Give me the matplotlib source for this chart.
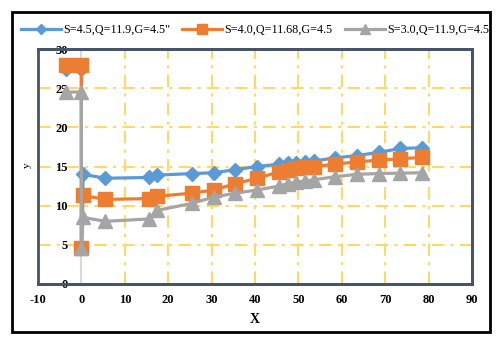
import matplotlib
matplotlib.use("Agg")
import matplotlib.pyplot as plt
from matplotlib.patches import Rectangle

# ---- data ----
x_vals = [-3.5, 0, 0, 0.4, 5.5, 15.5, 17.5, 25.5, 30.5, 35.5, 40.5, 45.5, 47.5,
          49.5, 51.5, 53.5, 58.5, 63.5, 68.5, 73.5, 78.5]
s45 = [27.5, 27.5, 4.6, 14.0, 13.5, 13.6, 13.9, 14.1, 14.2, 14.6, 15.0, 15.3, 15.4,
       15.5, 15.6, 15.7, 16.1, 16.4, 16.8, 17.3, 17.4]
s40 = [28.0, 28.0, 4.6, 11.3, 10.8, 10.9, 11.2, 11.6, 12.0, 12.8, 13.5, 14.3, 14.6,
       14.8, 14.9, 15.0, 15.3, 15.6, 15.8, 16.0, 16.15]
s30 = [24.5, 24.5, 4.6, 8.5, 8.0, 8.3, 9.4, 10.3, 11.1, 11.6, 12.0, 12.5, 12.8,
       13.0, 13.15, 13.3, 13.7, 14.0, 14.1, 14.15, 14.2]
labels = ['S=4.5,Q=11.9,G=4.5"', 'S=4.0,Q=11.68,G=4.5', 'S=3.0,Q=11.9,G=4.5']
x_ticks = list(range(-10, 91, 10))
y_ticks = list(range(0, 31, 5))

serif = "Liberation Serif"
plt.rcParams['font.family'] = [serif, 'DejaVu Serif']
plt.rcParams['axes.unicode_minus'] = False

fig = plt.figure(figsize=(5.02, 3.41), dpi=100)
ax = fig.add_axes([38/502, 1-284/341, (472-38)/502, (284-49)/341])

ax.set_xlim(-10, 90)
ax.set_ylim(0, 30)

# grid
dash = (0, (6, 3, 1.5, 3))
for xv in x_ticks[2:-1]:
    ax.plot([xv, xv], [0, 30], color="#FFD966", lw=1.5, ls=dash, zorder=1)
for yv in y_ticks[1:-1]:
    ax.plot([-10, 90], [yv, yv], color="#FFD966", lw=1.5, ls=dash, zorder=1)

# series
ax.plot(x_vals, s45, color="#5B9BD5", lw=2.3, marker="D", ms=7, label=labels[0], zorder=3)
ax.plot(x_vals, s40, color="#ED7D31", lw=2.3, marker="s", ms=9.5, label=labels[1], zorder=4)
ax.plot(x_vals, s30, color="#A5A5A5", lw=2.3, marker="^", ms=10, label=labels[2], zorder=5)

# axes styling
for side in ["top", "right", "bottom"]:
    ax.spines[side].set_color("#44546A")
    ax.spines[side].set_linewidth(2)
ax.spines["left"].set_position(("data", 0))
ax.spines["left"].set_color("#D9D9D9")
ax.spines["left"].set_linewidth(1.5)
ax.spines["left"].set_zorder(2)
ax.add_patch(Rectangle((0, 0), 1, 1, transform=ax.transAxes, fill=False,
                       edgecolor="#44546A", lw=2, zorder=6, clip_on=False))

ax.set_xticks(x_ticks)
ax.set_yticks(y_ticks)
ax.set_xticklabels([str(v) for v in x_ticks], fontweight="bold", fontsize=9)
ax.set_yticklabels([str(v) for v in y_ticks], fontweight="bold", fontsize=9)
ax.tick_params(axis="both", length=0)
ax.tick_params(axis="y", pad=10)
ax.tick_params(axis="x", pad=7)

ax.set_xlabel("X", fontsize=10, fontweight="bold")
ax.xaxis.set_label_coords(0.5, -0.123)
ax.set_ylabel("y", fontsize=8)
ax.yaxis.set_label_coords(-0.014, 0.506)

leg = fig.legend(loc="center", bbox_to_anchor=(255/502, 1-30/341), ncol=3, frameon=False,
                 prop={"family": serif, "size": 8.7}, handlelength=3.3, handletextpad=0.2,
                 columnspacing=1.0, borderaxespad=0, markerscale=0.7)

fig.patches.append(Rectangle((12/502, 1-332/341), (490-12)/502, (332-12)/341,
                             transform=fig.transFigure, fill=False, edgecolor="black",
                             lw=2, zorder=10))

fig.savefig("out.png", dpi=100)
